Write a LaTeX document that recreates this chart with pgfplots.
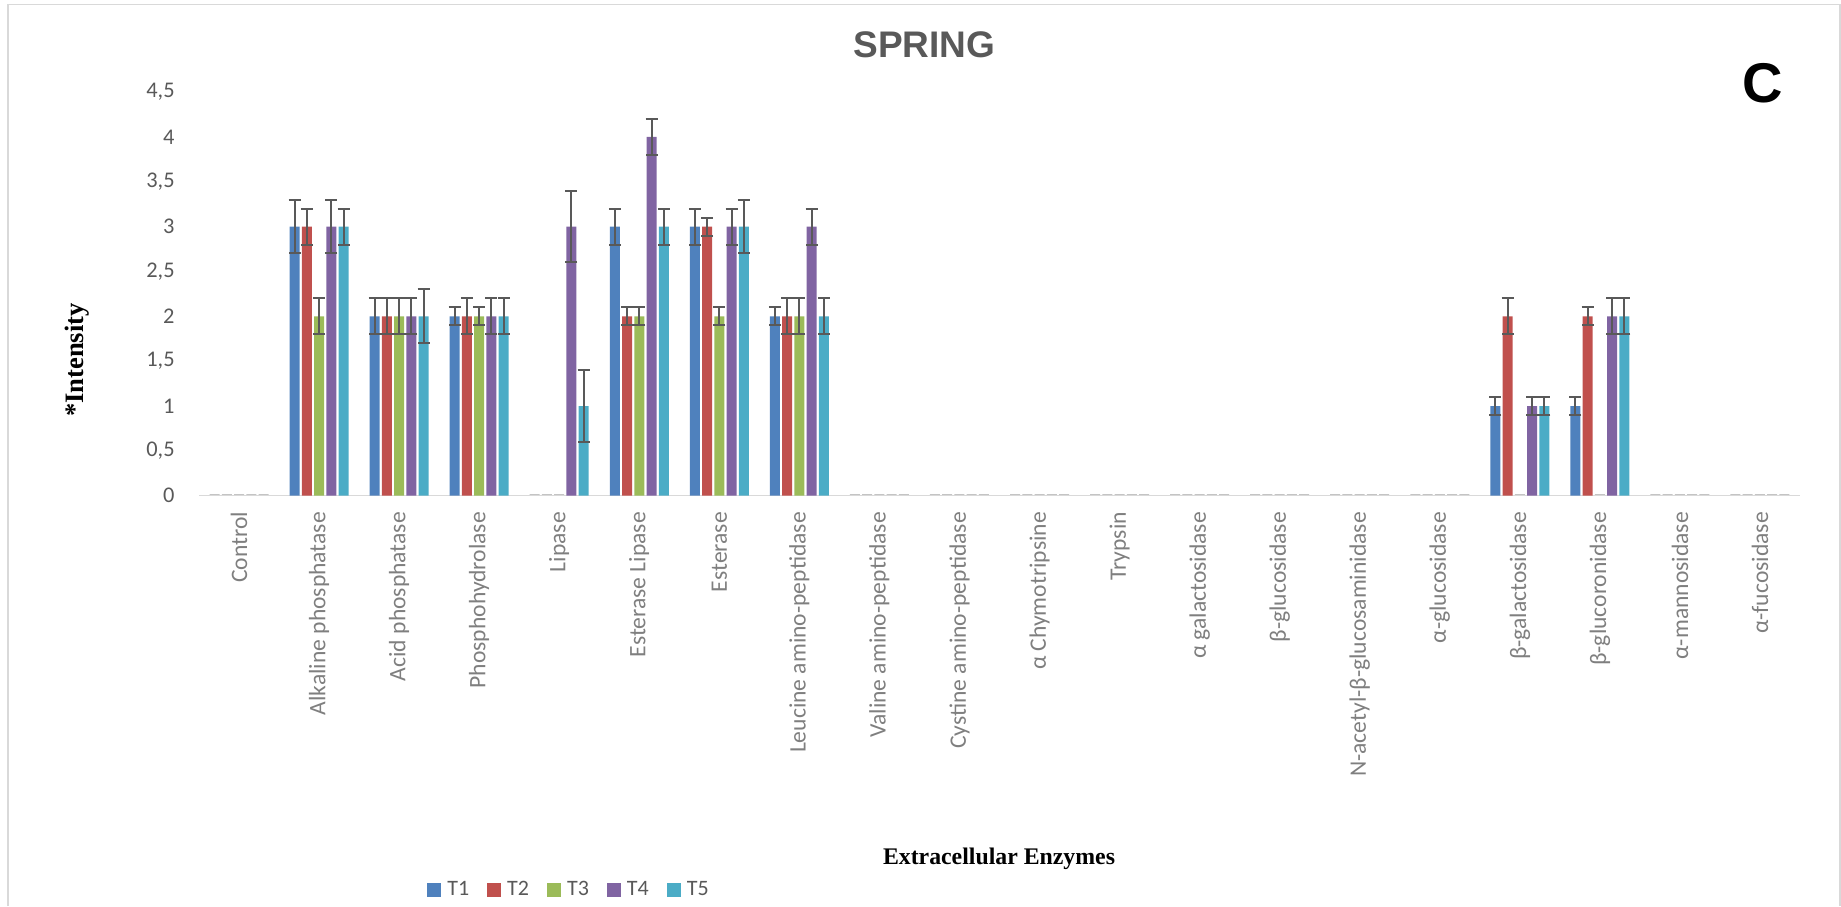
\documentclass[border=0pt]{standalone}
\usepackage{fontspec}
\setmainfont{Carlito}
\newfontfamily\arialfont{Liberation Sans}
\newfontfamily\timesfont{Liberation Serif}
\usepackage{pgfplots}
\pgfplotsset{compat=1.18}

\definecolor{cT1}{HTML}{4F81BD}
\definecolor{cT2}{HTML}{C0504D}
\definecolor{cT3}{HTML}{9BBB59}
\definecolor{cT4}{HTML}{8064A2}
\definecolor{cT5}{HTML}{4BACC6}
\definecolor{errgray}{HTML}{595959}
\definecolor{titlegray}{HTML}{595959}
\definecolor{xlabgray}{HTML}{7F7F7F}
\definecolor{axisgray}{HTML}{D9D9D9}
\definecolor{zerogray}{HTML}{C4C4C4}
\definecolor{bordergray}{HTML}{D9D9D9}

\pgfplotsset{
  % one bar per category, moved sideways to its place in the group
  grpbar/.style={ybar, bar width=5pt, bar shift=0pt, xshift=#1},
  % flat outline for a zero value, resting on the baseline
  zerobar/.style={ybar, bar width=5pt, bar shift=0pt, xshift=#1, yshift=0.7pt,
    fill=none, draw=zerogray, line width=0.6pt, forget plot, error bars/y dir=none},
}

\begin{document}
\begin{tikzpicture}
\path[use as bounding box] (0,0) rectangle (920.5pt,-453pt);
% frame, titles and axis names (units: 1 = 0.5pt, y downwards)
\begin{scope}[x=0.5pt,y=-0.5pt]
  \draw[bordergray, line width=0.75pt] (8,906) -- (8,4.5) -- (1840,4.5) -- (1840,906);
  \node[font=\arialfont\bfseries\fontsize{18.5}{20}\selectfont, text=titlegray] at (924.5,45) {SPRING};
  \node[font=\arialfont\bfseries\fontsize{28}{30}\selectfont] at (1763,83) {C};
  \node[rotate=90, font=\timesfont\bfseries\fontsize{13.3}{15}\selectfont] at (77,360) {*Intensity};
  \node[font=\timesfont\bfseries\fontsize{11.9}{13}\selectfont] at (999,859) {Extracellular Enzymes};
\end{scope}

\begin{axis}[
  at={(99.5pt,-247.85pt)}, anchor=south west,
  scale only axis, width=800.5pt, height=201.85pt,
  xmin=-0.5, xmax=19.5, ymin=0, ymax=4.5,
  clip=false,
  axis x line*=bottom, axis y line*=left,
  x axis line style={draw=axisgray, line width=0.75pt},
  y axis line style={draw=none},
  major tick length=0pt,
  xtick={0,1,...,19},
  xticklabels={Control, Alkaline phosphatase, Acid phosphatase, Phosphohydrolase, Lipase,
    Esterase Lipase, Esterase, Leucine amino-peptidase, Valine amino-peptidase,
    Cystine amino-peptidase, α Chymotripsine, Trypsin, α galactosidase, β-glucosidase,
    N-acetyl-β-glucosaminidase, α-glucosidase, β-galactosidase, β-glucoronidase,
    α-mannosidase, α-fucosidase},
  xticklabel style={rotate=90, anchor=east, inner sep=0pt,
    font=\fontsize{11.8}{12}\selectfont, text=xlabgray},
  xticklabel shift=8pt,
  ytick={0,0.5,1,1.5,2,2.5,3,3.5,4,4.5},
  yticklabels={0,{0,5},1,{1,5},2,{2,5},3,{3,5},4,{4,5}},
  yticklabel style={anchor=east, inner sep=0pt,
    font=\fontsize{11.2}{12}\selectfont, text=titlegray},
  yticklabel shift=12pt,
  error bars/y dir=both, error bars/y explicit,
  error bars/error bar style={draw=errgray, line width=1pt},
  error bars/error mark options={rotate=90, mark size=3pt, line width=1pt, draw=errgray},
  legend columns=5,
  legend image code/.code={\fill[#1] (0pt,-3.5pt) rectangle (7pt,3.5pt);},
  legend style={at={(axis description cs:0.2305,-0.977)}, anchor=center,
    draw=none, fill=none, inner sep=0pt,
    font=\fontsize{11}{12}\selectfont, text=titlegray,
    nodes={inner sep=0pt},
    /tikz/every odd column/.append style={column sep=3pt},
    /tikz/every even column/.append style={column sep=9pt}},
  legend entries={T1,T2,T3,T4,T5},
]
% T1
\addplot[grpbar=-12.25pt, fill=cT1, draw=none] coordinates {
  (1,3) +- (0,0.3) (2,2) +- (0,0.2) (3,2) +- (0,0.1) (5,3) +- (0,0.2)
  (6,3) +- (0,0.2) (7,2) +- (0,0.1) (16,1) +- (0,0.1) (17,1) +- (0,0.1)};
% T2
\addplot[grpbar=-6.125pt, fill=cT2, draw=none] coordinates {
  (1,3) +- (0,0.2) (2,2) +- (0,0.2) (3,2) +- (0,0.2) (5,2) +- (0,0.1)
  (6,3) +- (0,0.1) (7,2) +- (0,0.2) (16,2) +- (0,0.2) (17,2) +- (0,0.1)};
% T3
\addplot[grpbar=0pt, fill=cT3, draw=none] coordinates {
  (1,2) +- (0,0.2) (2,2) +- (0,0.2) (3,2) +- (0,0.1) (5,2) +- (0,0.1)
  (6,2) +- (0,0.1) (7,2) +- (0,0.2)};
% T4
\addplot[grpbar=6.125pt, fill=cT4, draw=none] coordinates {
  (1,3) +- (0,0.3) (2,2) +- (0,0.2) (3,2) +- (0,0.2) (4,3) +- (0,0.4)
  (5,4) +- (0,0.2) (6,3) +- (0,0.2) (7,3) +- (0,0.2) (16,1) +- (0,0.1) (17,2) +- (0,0.2)};
% T5
\addplot[grpbar=12.25pt, fill=cT5, draw=none] coordinates {
  (1,3) +- (0,0.2) (2,2) +- (0,0.3) (3,2) +- (0,0.2) (4,1) +- (0,0.4)
  (5,3) +- (0,0.2) (6,3) +- (0,0.3) (7,2) +- (0,0.2) (16,1) +- (0,0.1) (17,2) +- (0,0.2)};

% zero-valued entries
\addplot[zerobar=-12.25pt] coordinates {
  (0,0) (4,0) (8,0) (9,0) (10,0) (11,0) (12,0) (13,0) (14,0) (15,0) (18,0) (19,0)};
\addplot[zerobar=-6.125pt] coordinates {
  (0,0) (4,0) (8,0) (9,0) (10,0) (11,0) (12,0) (13,0) (14,0) (15,0) (18,0) (19,0)};
\addplot[zerobar=0pt] coordinates {
  (0,0) (4,0) (8,0) (9,0) (10,0) (11,0) (12,0) (13,0) (14,0) (15,0) (16,0) (17,0) (18,0) (19,0)};
\addplot[zerobar=6.125pt] coordinates {
  (0,0) (8,0) (9,0) (10,0) (11,0) (12,0) (13,0) (14,0) (15,0) (18,0) (19,0)};
\addplot[zerobar=12.25pt] coordinates {
  (0,0) (8,0) (9,0) (10,0) (11,0) (12,0) (13,0) (14,0) (15,0) (18,0) (19,0)};
\end{axis}
\end{tikzpicture}
\end{document}
